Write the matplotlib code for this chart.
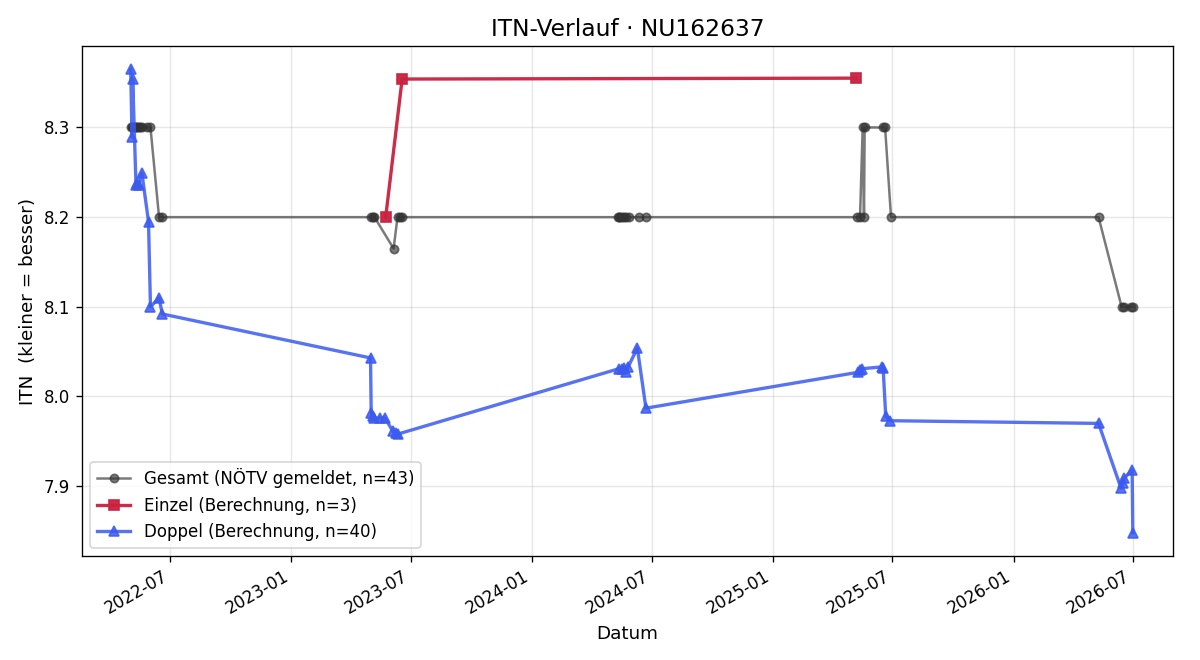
import numpy as np
import pandas as pd
import matplotlib
matplotlib.use("Agg")
import matplotlib.pyplot as plt
import matplotlib.dates as mdates

# Gesamt (gemeldet)
gesamt_dates = [
    "2022-05-02", "2022-05-04", "2022-05-05", "2022-05-06", "2022-05-08",
    "2022-05-10", "2022-05-12", "2022-05-14", "2022-05-16", "2022-05-19",
    "2022-05-27", "2022-06-01", "2022-06-14", "2022-06-19",
    "2023-05-01", "2023-05-04", "2023-05-07", "2023-06-05", "2023-06-11",
    "2023-06-14", "2023-06-18",
    "2024-05-11", "2024-05-12", "2024-05-14", "2024-05-17", "2024-05-20",
    "2024-05-23", "2024-05-27", "2024-06-11", "2024-06-22",
    "2025-05-08", "2025-05-13", "2025-05-17", "2025-05-19", "2025-05-20",
    "2025-06-17", "2025-06-20", "2025-06-29",
    "2026-05-10", "2026-06-14", "2026-06-18", "2026-06-29", "2026-07-01",
]
gesamt_itn = [
    8.30, 8.30, 8.30, 8.30, 8.30,
    8.30, 8.30, 8.30, 8.30, 8.30,
    8.30, 8.30, 8.20, 8.20,
    8.20, 8.20, 8.20, 8.165, 8.20,
    8.20, 8.20,
    8.20, 8.20, 8.20, 8.20, 8.20,
    8.20, 8.20, 8.20, 8.20,
    8.20, 8.20, 8.30, 8.20, 8.30,
    8.30, 8.30, 8.20,
    8.20, 8.10, 8.10, 8.10, 8.10,
]

# Einzel (Berechnung)
einzel_dates = ["2023-05-24", "2023-06-18", "2025-05-07"]
einzel_itn = [8.20, 8.354, 8.355]

# Doppel (Berechnung)
doppel_dates = [
    "2022-05-02", "2022-05-04", "2022-05-05", "2022-05-10", "2022-05-12",
    "2022-05-14", "2022-05-19", "2022-05-29", "2022-06-01", "2022-06-14",
    "2022-06-19",
    "2023-05-01", "2023-05-02", "2023-05-05", "2023-05-07", "2023-05-15",
    "2023-05-23", "2023-06-04", "2023-06-08", "2023-06-11",
    "2024-05-12", "2024-05-17", "2024-05-20", "2024-05-23", "2024-05-26",
    "2024-06-09", "2024-06-22",
    "2025-05-10", "2025-05-13", "2025-05-16", "2025-06-15", "2025-06-17",
    "2025-06-21", "2025-06-28",
    "2026-05-10", "2026-06-13", "2026-06-16", "2026-06-18", "2026-06-30",
    "2026-07-01",
]
doppel_itn = [
    8.365, 8.289, 8.354, 8.236, 8.238,
    8.236, 8.249, 8.195, 8.100, 8.110,
    8.092,
    8.043, 7.982, 7.978, 7.976, 7.976,
    7.976, 7.961, 7.959, 7.958,
    8.031, 8.031, 8.032, 8.027, 8.033,
    8.054, 7.987,
    8.027, 8.029, 8.031, 8.033, 8.032,
    7.978, 7.973,
    7.970, 7.898, 7.903, 7.909, 7.918,
    7.848,
]

g_d = pd.to_datetime(gesamt_dates)
e_d = pd.to_datetime(einzel_dates)
d_d = pd.to_datetime(doppel_dates)

fig, ax = plt.subplots(figsize=(10, 5.5), dpi=120)

ax.plot(g_d, gesamt_itn, marker="o", markersize=5, linewidth=1.5,
        color="0.2", alpha=0.65,
        label=f"Gesamt (NÖTV gemeldet, n={len(gesamt_itn)})")
ax.plot(e_d, einzel_itn, marker="s", markersize=6, linewidth=2,
        color="#c9213f", alpha=0.95,
        label=f"Einzel (Berechnung, n={len(einzel_itn)})")
ax.plot(d_d, doppel_itn, marker="^", markersize=6, linewidth=2,
        color="#3b5bf0", alpha=0.85,
        label=f"Doppel (Berechnung, n={len(doppel_itn)})")

ax.set_title("ITN-Verlauf · NU162637", fontsize=14)
ax.set_xlabel("Datum", fontsize=11)
ax.set_ylabel("ITN  (kleiner = besser)", fontsize=11)
ax.grid(True, alpha=0.3)

ax.xaxis.set_major_locator(mdates.MonthLocator(bymonth=[1, 7]))
ax.xaxis.set_major_formatter(mdates.DateFormatter("%Y-%m"))
ax.set_xlim(pd.Timestamp("2022-02-17"), pd.Timestamp("2026-08-31"))
fig.autofmt_xdate()
fig.subplots_adjust(left=0.0683, right=0.9775, top=0.9303, bottom=0.1576)

ax.legend(loc="lower left", fontsize=10)

fig.savefig("out.png", dpi=120)
